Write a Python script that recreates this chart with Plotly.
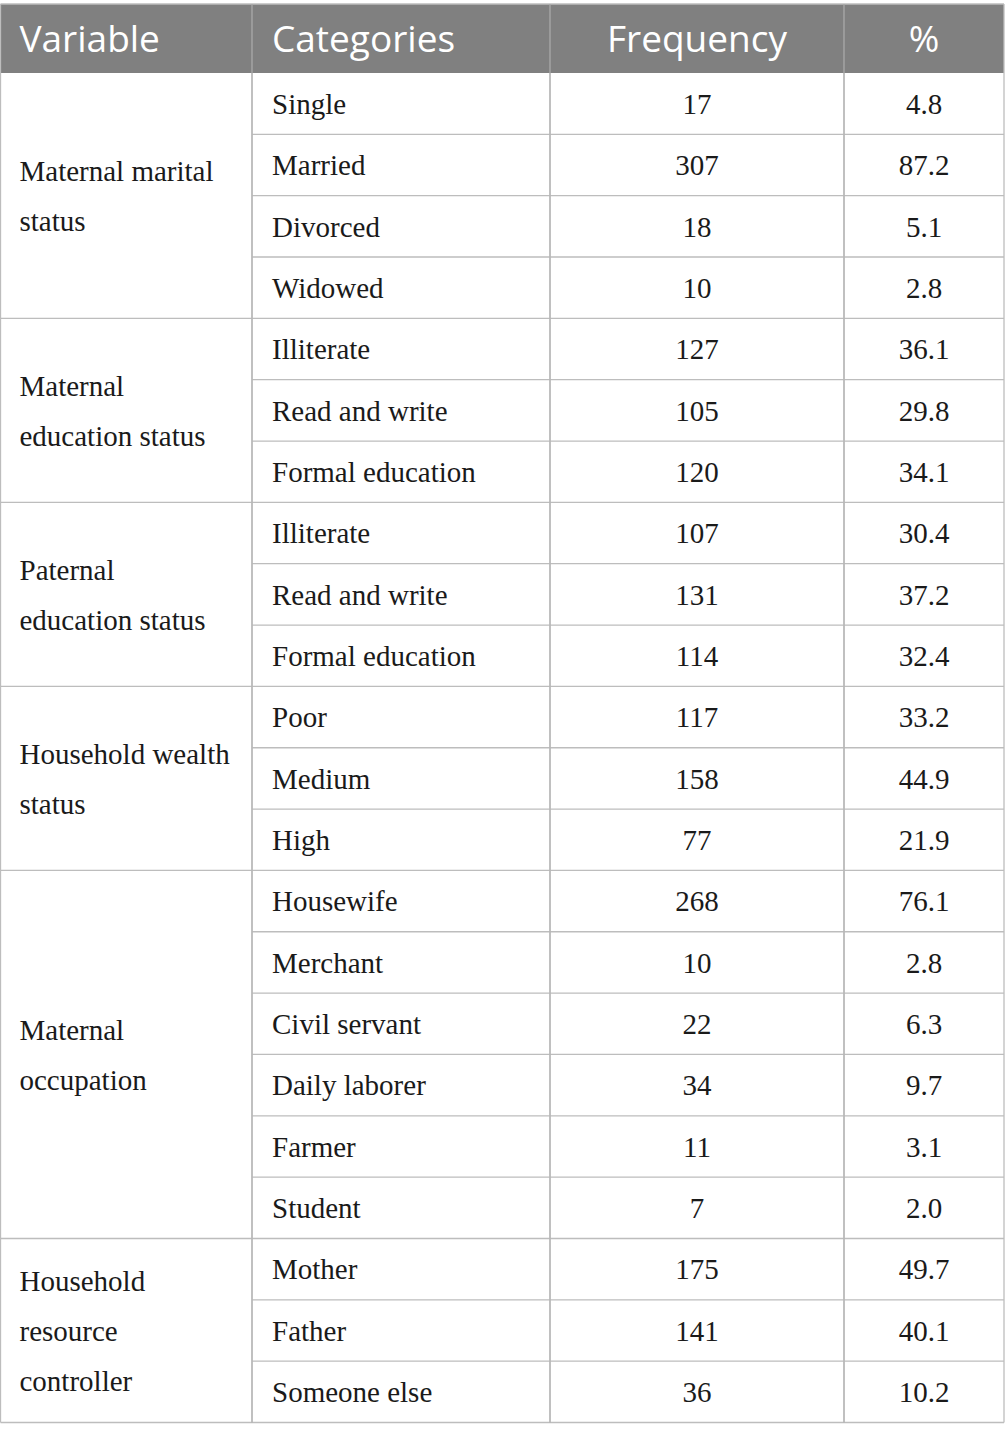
import plotly.graph_objects as go

# ---- table data ----
headers = ["Variable", "Categories", "Frequency", "%"]

variable_lines = [
    ["Maternal marital", "status"],
    ["Maternal", "education status"],
    ["Paternal", "education status"],
    ["Household wealth", "status"],
    ["Maternal", "occupation"],
    ["Household", "resource", "controller"],
]

categories = [
    ["Single", "Married", "Divorced", "Widowed"],
    ["Illiterate", "Read and write", "Formal education"],
    ["Illiterate", "Read and write", "Formal education"],
    ["Poor", "Medium", "High"],
    ["Housewife", "Merchant", "Civil servant", "Daily laborer", "Farmer", "Student"],
    ["Mother", "Father", "Someone else"],
]

frequency = [17, 307, 18, 10, 127, 105, 120, 107, 131, 114, 117, 158, 77,
             268, 10, 22, 34, 11, 7, 175, 141, 36]

percent = ["4.8", "87.2", "5.1", "2.8", "36.1", "29.8", "34.1", "30.4", "37.2",
           "32.4", "33.2", "44.9", "21.9", "76.1", "2.8", "6.3", "9.7", "3.1",
           "2.0", "49.7", "40.1", "10.2"]

# ---- layout constants ----
W, H = 1005, 1441
ROW_PX = 61.36
HEAD_TOP = -69 / ROW_PX          # header height in row units
COL_X = [0.5, 252, 550, 844, 1004]
PAD = 20
LINE_GAP = 50 / ROW_PX           # line spacing of multi-line variable text
BODY_NUDGE = 3 / ROW_PX          # optical centring of serif text
HEAD_NUDGE = 4.5 / ROW_PX
HEAD_BG = "#808080"
GRID = "#bdbdbd"
TXT = "#1a1a1a"
SERIF = "Liberation Serif"
SANS = "Open Sans"
BODY_SIZE = 29
HEAD_SIZE = 37

n_rows = sum(len(c) for c in categories)
flat_cats = [c for grp in categories for c in grp]

fig = go.Figure()

shapes = []
# header band
shapes.append(dict(type="rect", x0=COL_X[0], x1=COL_X[-1], y0=HEAD_TOP, y1=0,
                   fillcolor=HEAD_BG, line_width=0, layer="below"))
shapes.append(dict(type="line", x0=COL_X[0], x1=COL_X[-1], y0=HEAD_TOP, y1=HEAD_TOP,
                   line=dict(color=GRID, width=1.3)))

# horizontal rules
start = 0
group_bounds = []
for grp in categories:
    group_bounds.append((start, start + len(grp)))
    for i in range(1, len(grp)):
        shapes.append(dict(type="line", x0=COL_X[1], x1=COL_X[-1], y0=start + i, y1=start + i,
                           line=dict(color=GRID, width=1.3)))
    start += len(grp)
for a, b in group_bounds:
    shapes.append(dict(type="line", x0=COL_X[0], x1=COL_X[-1], y0=b, y1=b,
                       line=dict(color=GRID, width=1.3)))

# vertical rules
for j, x in enumerate(COL_X):
    shapes.append(dict(type="line", x0=x, x1=x, y0=HEAD_TOP, y1=n_rows,
                       line=dict(color=GRID if j in (0, len(COL_X) - 1) else "#a9a9a9", width=1.3)))
    if 0 < j < len(COL_X) - 1:
        shapes.append(dict(type="line", x0=x, x1=x, y0=0, y1=n_rows,
                           line=dict(color=GRID, width=1.3)))

# header text
head_y = HEAD_TOP / 2 + HEAD_NUDGE
fig.add_trace(go.Scatter(
    x=[COL_X[0] + PAD - 1, COL_X[1] + PAD], y=[head_y, head_y], text=headers[:2],
    mode="text", textposition="middle right",
    textfont=dict(family=SANS, size=HEAD_SIZE, color="white"), hoverinfo="skip"))
fig.add_trace(go.Scatter(
    x=[(COL_X[2] + COL_X[3]) / 2, (COL_X[3] + COL_X[4]) / 2], y=[head_y, head_y],
    text=headers[2:], mode="text", textposition="middle center",
    textfont=dict(family=SANS, size=HEAD_SIZE, color="white"), hoverinfo="skip"))

# variable labels, centred on their group
vx, vy, vt = [], [], []
for (a, b), lines in zip(group_bounds, variable_lines):
    mid = (a + b) / 2 + BODY_NUDGE
    for k, ln in enumerate(lines):
        vx.append(COL_X[0] + PAD - 1)
        vy.append(mid + (k - (len(lines) - 1) / 2) * LINE_GAP)
        vt.append(ln)
fig.add_trace(go.Scatter(
    x=vx, y=vy, text=vt, mode="text", textposition="middle right",
    textfont=dict(family=SERIF, size=BODY_SIZE, color=TXT), hoverinfo="skip"))

# category / frequency / percent cells
row_y = [i + 0.5 + BODY_NUDGE for i in range(n_rows)]
fig.add_trace(go.Scatter(
    x=[COL_X[1] + PAD] * n_rows, y=row_y, text=flat_cats, mode="text",
    textposition="middle right",
    textfont=dict(family=SERIF, size=BODY_SIZE, color=TXT), hoverinfo="skip"))
fig.add_trace(go.Scatter(
    x=[(COL_X[2] + COL_X[3]) / 2] * n_rows, y=row_y, text=[str(f) for f in frequency],
    mode="text", textposition="middle center",
    textfont=dict(family=SERIF, size=BODY_SIZE, color=TXT), hoverinfo="skip"))
fig.add_trace(go.Scatter(
    x=[(COL_X[3] + COL_X[4]) / 2] * n_rows, y=row_y, text=percent,
    mode="text", textposition="middle center",
    textfont=dict(family=SERIF, size=BODY_SIZE, color=TXT), hoverinfo="skip"))

fig.update_layout(
    width=W, height=H, margin=dict(l=0, r=0, t=0, b=0),
    paper_bgcolor="white", plot_bgcolor="white", showlegend=False,
    shapes=shapes,
    xaxis=dict(range=[0, W], visible=False, fixedrange=True),
    yaxis=dict(range=[n_rows + 18.5 / ROW_PX, HEAD_TOP - 4 / ROW_PX],
               visible=False, fixedrange=True),
)

# drop the browser's default body margin so the table sits at the page origin
fig.write_html("out.html", config={"displayModeBar": False},
               post_script="document.body.style.margin='0';")
